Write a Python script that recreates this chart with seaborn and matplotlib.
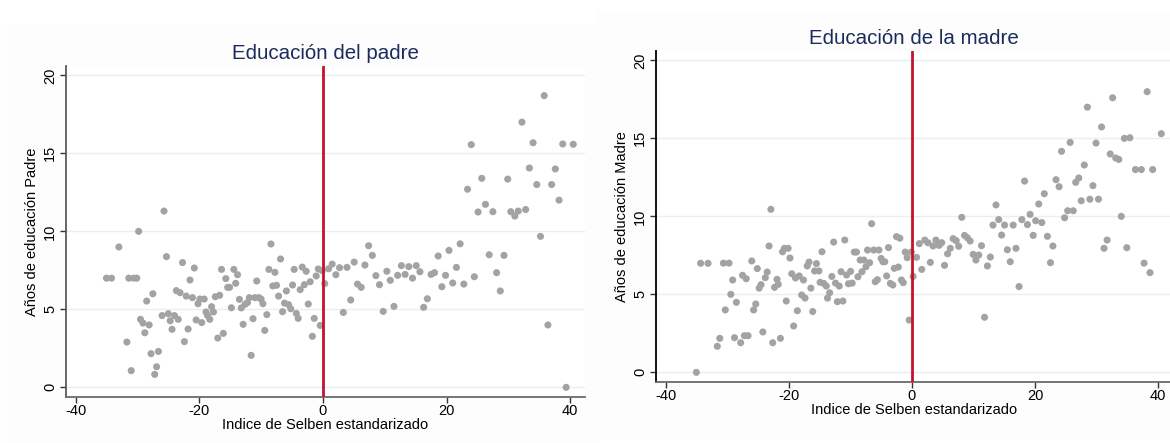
import numpy as np
import pandas as pd
import matplotlib
matplotlib.use("Agg")
import matplotlib.pyplot as plt
from matplotlib.patches import Rectangle
import seaborn as sns

sns.set_theme(style="white")
plt.rcParams['font.family'] = ['Liberation Sans', 'DejaVu Sans']

# ---- Data: Educación del padre ----
padre_x = [-35.0, -34.2, -33.0, -31.7, -31.4, -31.0, -30.6, -30.1, -29.8, -29.5, -29.1, -28.8,
           -28.5, -28.1, -27.8, -27.5, -27.2, -26.9, -26.6, -26.0, -25.7, -25.3, -25.0, -24.7,
           -24.4, -24.0, -23.7, -23.4, -23.1, -22.7, -22.4, -22.1, -21.8, -21.5, -21.1, -20.8,
           -20.5, -20.2, -19.9, -19.6, -19.2, -18.9, -18.65, -18.3, -18.0, -17.7, -17.4, -17.0,
           -16.7, -16.4, -16.1, -15.7, -15.4, -15.1, -14.8, -14.4, -14.1, -13.8, -13.5, -13.2,
           -12.9, -12.6, -12.2, -11.9, -11.6, -11.3, -11.0, -10.7, -10.35, -10.0, -9.7, -9.4,
           -9.06, -8.73, -8.4, -8.1, -7.76, -7.5, -7.17, -6.85, -6.52, -6.2, -5.9, -5.55,
           -5.2, -4.9, -4.64, -4.3, -4.0, -3.67, -3.34, -3.0, -2.7, -2.37, -2.05, -1.7,
           -1.4, -1.08, -0.75, -0.43, -0.1, 0.3, 0.92, 1.5, 2.1, 2.7, 3.3, 3.9,
           4.5, 5.07, 5.6, 6.2, 6.8, 7.4, 8.0, 8.57, 9.16, 9.76, 10.35, 10.9,
           11.5, 12.1, 12.7, 13.3, 13.9, 14.5, 15.1, 15.7, 16.3, 16.9, 17.5, 18.06,
           18.65, 19.25, 19.84, 20.4, 21.0, 21.6, 22.2, 22.8, 23.4, 24.0, 24.5, 25.1,
           25.7, 26.3, 26.9, 27.5, 28.1, 28.7, 29.3, 29.9, 30.4, 31.05, 31.6, 32.2,
           32.8, 33.4, 34.0, 34.6, 35.2, 35.8, 36.4, 37.0, 37.6, 38.2, 38.8, 39.35, 40.5]
padre_y = [7.0, 7.0, 9.0, 2.9, 7.0, 1.07, 7.0, 7.0, 10.0, 4.36, 4.12, 3.5,
           5.53, 4.0, 2.16, 6.0, 0.83, 1.32, 2.3, 4.6, 11.3, 8.38, 4.72, 4.27,
           3.72, 4.6, 6.2, 4.36, 6.07, 8.0, 2.93, 5.85, 3.74, 6.88, 5.75, 7.65,
           4.32, 5.36, 5.66, 4.15, 5.66, 4.83, 4.6, 4.36, 5.17, 4.83, 5.81, 3.16,
           5.9, 7.56, 3.46, 6.97, 6.41, 6.41, 5.1, 7.56, 6.67, 7.22, 5.64, 5.09,
           4.04, 5.32, 5.43, 5.75, 2.05, 4.4, 5.75, 6.82, 5.75, 5.66, 5.36, 3.65,
           4.66, 7.56, 9.19, 6.5, 7.37, 6.54, 5.85, 8.23, 4.85, 5.4, 6.18, 5.3,
           5.04, 6.56, 7.56, 4.74, 4.42, 6.26, 7.71, 6.58, 7.44, 5.34, 6.77, 3.27,
           4.42, 7.14, 7.59, 3.97, 7.48, 6.65, 7.6, 7.9, 7.22, 7.67, 4.8, 7.69,
           5.6, 8.03, 6.62, 6.41, 7.84, 9.08, 8.46, 7.16, 6.58, 4.87, 7.44, 6.86,
           5.19, 7.18, 7.8, 7.24, 7.74, 7.0, 7.8, 7.41, 5.13, 5.68, 7.24, 7.35,
           8.42, 6.45, 7.18, 8.78, 6.69, 7.69, 9.2, 6.62, 12.7, 15.56, 7.09, 11.24,
           13.4, 11.73, 8.5, 11.26, 7.35, 6.18, 8.46, 13.35, 11.26, 10.98, 11.3, 17.0,
           11.4, 14.06, 15.68, 13.0, 9.68, 18.7, 4.0, 13.0, 14.0, 12.0, 15.6, 0.0, 15.58]

# ---- Data: Educación de la madre ----
madre_x = [-35.0, -34.3, -33.1, -31.6, -31.2, -30.6, -30.3, -29.7, -29.4, -29.1, -28.8, -28.5,
           -27.8, -27.5, -27.2, -26.9, -26.6, -26.0, -25.7, -25.35, -25.1, -24.8, -24.5, -24.2,
           -23.8, -23.5, -23.2, -22.9, -22.6, -22.3, -21.9, -21.7, -21.35, -21.0, -20.7, -20.4,
           -20.1, -19.8, -19.5, -19.2, -18.9, -18.6, -18.3, -17.9, -17.6, -17.35, -17.0, -16.7,
           -16.4, -16.1, -15.8, -15.5, -15.1, -14.9, -14.6, -14.3, -13.9, -13.7, -13.35, -13.0,
           -12.7, -12.4, -12.1, -11.8, -11.5, -11.2, -10.9, -10.6, -10.3, -9.95, -9.7, -9.35,
           -9.0, -8.76, -8.4, -8.1, -7.8, -7.46, -7.2, -6.86, -6.54, -6.2, -5.95, -5.6,
           -5.35, -5.0, -4.7, -4.4, -4.1, -3.8, -3.5, -3.1, -2.86, -2.5, -2.2, -1.95,
           -1.7, -1.4, -1.08, -0.76, -0.43, -0.1, 0.2, 0.75, 1.2, 1.6, 2.1, 2.6,
           3.0, 3.44, 3.9, 4.4, 4.84, 5.3, 5.8, 6.24, 6.7, 7.2, 7.6, 8.1,
           8.55, 9.0, 9.46, 9.95, 10.4, 10.86, 11.3, 11.8, 12.26, 12.74, 13.17, 13.66,
           14.1, 14.57, 15.05, 15.5, 15.97, 16.45, 16.9, 17.4, 17.85, 18.3, 18.76, 19.2,
           19.7, 20.1, 20.6, 21.1, 21.5, 22.0, 22.5, 22.9, 23.4, 23.9, 24.3, 24.8,
           25.3, 25.7, 26.2, 26.6, 27.1, 27.5, 28.0, 28.5, 28.9, 29.4, 29.9, 30.3,
           30.8, 31.2, 31.7, 32.2, 32.6, 33.1, 33.6, 34.0, 34.5, 34.9, 35.4, 36.3,
           37.26, 37.7, 38.2, 38.66, 39.1, 40.5]
madre_y = [0.0, 6.99, 6.99, 1.67, 2.18, 7.0, 4.0, 7.0, 5.0, 5.92, 2.22, 4.49,
           1.9, 6.22, 2.35, 6.0, 2.35, 7.14, 4.0, 4.38, 6.65, 5.4, 5.62, 2.59,
           6.07, 6.43, 8.1, 10.45, 1.9, 5.45, 5.96, 5.64, 2.18, 7.73, 7.95, 4.57,
           7.95, 7.33, 6.32, 2.97, 6.05, 3.95, 6.18, 4.96, 5.92, 4.76, 6.82, 7.07,
           5.4, 3.9, 6.5, 6.97, 6.5, 5.77, 7.73, 5.7, 5.53, 4.76, 5.1, 6.15,
           8.35, 5.72, 4.53, 5.53, 6.45, 4.57, 8.48, 6.24, 5.68, 6.47, 5.72, 7.71,
           7.71, 6.13, 7.2, 6.45, 7.2, 6.77, 7.84, 7.03, 9.53, 7.84, 5.81, 5.94,
           7.84, 7.3, 7.09, 7.09, 6.18, 8.0, 5.7, 5.6, 6.67, 8.7, 6.75, 8.6,
           5.92, 5.75, 7.71, 7.35, 3.35, 7.71, 6.15, 7.37, 8.25, 6.6, 8.48, 8.31,
           7.05, 8.1, 8.48, 8.14, 8.31, 6.86, 7.6, 7.95, 8.57, 8.44, 8.08, 9.94,
           8.78, 8.63, 8.42, 7.56, 7.2, 7.52, 8.12, 3.53, 6.82, 7.39, 9.44, 10.73,
           9.79, 8.8, 9.44, 7.86, 7.09, 9.44, 7.95, 5.5, 9.79, 12.26, 9.47, 10.13,
           8.78, 9.72, 10.79, 9.6, 11.45, 8.72, 7.03, 8.1, 12.35, 11.9, 14.17, 9.91,
           10.36, 14.74, 10.36, 12.18, 12.46, 11.0, 13.29, 17.0, 11.1, 11.97, 14.7, 11.1,
           15.73, 7.95, 8.48, 14.0, 17.6, 13.74, 13.65, 10.0, 15.0, 7.99, 15.04, 13.0,
           13.0, 7.0, 17.99, 6.39, 13.0, 15.3]

titles = ["Educación del padre", "Educación de la madre"]
xlabel = "Indice de Selben estandarizado"
ylabels = ["Años de educación Padre", "Años de educación Madre"]
xticks = [-40, -20, 0, 20, 40]
yticks = [0, 5, 10, 15, 20]

df_p = pd.DataFrame({"x": padre_x, "y": padre_y})
df_m = pd.DataFrame({"x": madre_x, "y": madre_y})

W, H = 1170, 443
fig = plt.figure(figsize=(W / 100, H / 100), dpi=100, facecolor="white")

# very subtle panel backgrounds (Stata graph regions), drawn beneath the axes
fig.patches.append(Rectangle((7 / W, 0), (600 - 7) / W, 1 - 24 / H, transform=fig.transFigure,
                             facecolor="#fdfdfd", edgecolor="none", zorder=-10))
fig.patches.append(Rectangle((597 / W, 1 - 440 / H), (1170 - 597) / W, (440 - 10) / H,
                             transform=fig.transFigure, facecolor="#fdfdfd", edgecolor="none",
                             zorder=-10))

def px_axes(l, t, r, b):
    return [l / W, 1 - b / H, (r - l) / W, (b - t) / H]

ax1 = fig.add_axes(px_axes(65.7, 66, 585, 396.7))
ax2 = fig.add_axes(px_axes(655.7, 51, 1173, 381.7))

grid_c = "#e6f0f0"
pt_c = "#a3a3a3"
red = "#c8102e"
title_c = "#1a2b5c"

for ax, df, ttl, yl, ycol in [(ax1, df_p, titles[0], ylabels[0], "#5a5a5a"),
                              (ax2, df_m, titles[1], ylabels[1], "#000000")]:
    ax.set_facecolor("white")
    for yv in yticks:
        ax.axhline(yv, color=grid_c, lw=1.0, zorder=0)
    sns.scatterplot(data=df, x="x", y="y", ax=ax, color=pt_c, s=26, edgecolor="none",
                    linewidth=0, zorder=3)
    ax.axvline(0, color=red, lw=2.0, zorder=4)
    ax.set_xlim(-41.6, 42.4)
    ax.set_ylim(-0.6, 20.6)
    ax.set_xticks(xticks)
    ax.set_yticks(yticks)
    ax.set_xticklabels([str(v) for v in xticks])
    ax.set_yticklabels([str(v) for v in yticks])
    for s in ["top", "right"]:
        ax.spines[s].set_visible(False)
    ax.spines["bottom"].set_color("#6a6a6a")
    ax.spines["left"].set_color(ycol)
    ax.spines["bottom"].set_linewidth(1.3)
    ax.spines["left"].set_linewidth(1.3)
    ax.tick_params(axis="x", direction="out", length=4, width=1.0, color="#333333",
                   labelsize=10.5, pad=1.5, bottom=True, labelcolor="black")
    ax.tick_params(axis="y", direction="out", length=4, width=1.0, color="#333333",
                   labelsize=10.5, pad=2, left=True, labelrotation=90, labelcolor="black")
    for lab in ax.get_yticklabels():
        lab.set_va("center")
    ax.set_xlabel(xlabel, fontsize=10.5, labelpad=0, color="black")
    ax.set_ylabel(yl, fontsize=10.5, labelpad=3, color="black")
    ax.set_title(ttl, fontsize=14.8, color=title_c, pad=5)
    ax.grid(False)

fig.savefig("out.png", dpi=100, facecolor="white")
